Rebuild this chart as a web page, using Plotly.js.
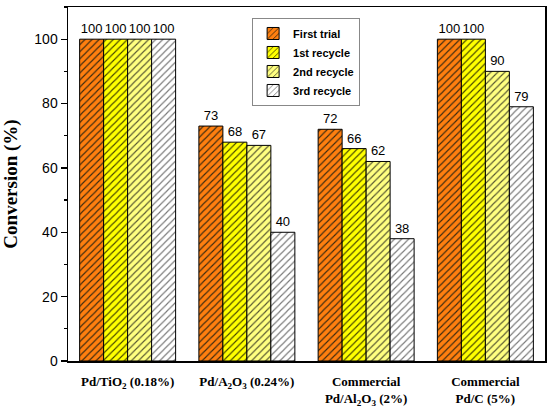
<!DOCTYPE html>
<html>
<head>
<meta charset="utf-8">
<script src="https://cdn.plot.ly/plotly-3.0.1.min.js"></script>
<style>html,body{margin:0;padding:0;background:#fff;}#chart{width:550px;height:413px;}</style>
</head>
<body>
<div id="chart"></div>
<script>
var categories = [
  "Pd/TiO<sub>2</sub> (0.18%)",
  "Pd/A<sub>2</sub>O<sub>3</sub> (0.24%)",
  "Commercial<br>Pd/Al<sub>2</sub>O<sub>3</sub> (2%)",
  "Commercial<br>Pd/C (5%)"
];
var seriesNames = ["First trial", "1st recycle", "2nd recycle", "3rd recycle"];
var firstTrial = [100, 73, 72, 100];
var recycle1 = [100, 68, 66, 100];
var recycle2 = [100, 67, 62, 90];
var recycle3 = [100, 40, 38, 79];

var seriesValues = [firstTrial, recycle1, recycle2, recycle3];
var fills = ["#FF7F0F", "#FFFF00", "#FFFF80", "#FFFFFF"];
var hatch = ["#3a2a10", "#444400", "#555530", "#777777"];

var traces = seriesValues.map(function (vals, i) {
  return {
    type: "bar",
    name: seriesNames[i],
    x: categories,
    y: vals,
    text: vals.map(String),
    textposition: "outside",
    cliponaxis: false,
    constraintext: "none",
    textfont: {family: "Liberation Sans, Arial, sans-serif", size: 13, color: "#000"},
    marker: {
      color: fills[i],
      line: {color: "#000", width: 1},
      pattern: {shape: "/", fgcolor: hatch[i], bgcolor: fills[i], size: 5, solidity: 0.22, fillmode: "replace"}
    }
  };
});

var layout = {
  width: 550,
  height: 413,
  margin: {l: 68, r: 5, t: 7, b: 52},
  paper_bgcolor: "#fff",
  plot_bgcolor: "#fff",
  barmode: "group",
  bargap: 0.195,
  bargroupgap: 0,
  showlegend: true,
  legend: {
    x: 0.386, y: 0.969, xanchor: "left", yanchor: "top",
    bgcolor: "#fff", bordercolor: "#888", borderwidth: 1,
    font: {family: "Liberation Sans, Arial, sans-serif", size: 11, color: "#000", weight: "bold"},
    tracegroupgap: 0
  },
  xaxis: {
    type: "category",
    range: [-0.5, 3.5],
    showline: true, linecolor: "#000", linewidth: 1.5, mirror: true,
    ticks: "", showgrid: false, zeroline: false,
    tickfont: {family: "Liberation Serif, Times New Roman, serif", size: 13, color: "#000", weight: "bold"},
    ticklabelstandoff: 8
  },
  yaxis: {
    range: [0, 110],
    tickvals: [0, 20, 40, 60, 80, 100],
    showline: true, linecolor: "#000", linewidth: 1.5, mirror: true,
    ticks: "outside", ticklen: 6, tickwidth: 1.2, tickcolor: "#000",
    minor: {dtick: 10, ticks: "outside", ticklen: 3, tickwidth: 1.2, tickcolor: "#000", showgrid: false},
    showgrid: false, zeroline: false,
    tickfont: {family: "Liberation Sans, Arial, sans-serif", size: 14, color: "#000"},
    title: {text: "Conversion (%)", standoff: 14,
      font: {family: "Liberation Serif, Times New Roman, serif", size: 19, color: "#000", weight: "bold"}}
  }
};

Plotly.newPlot("chart", traces, layout, {displayModeBar: false, staticPlot: true});
</script>
</body>
</html>
